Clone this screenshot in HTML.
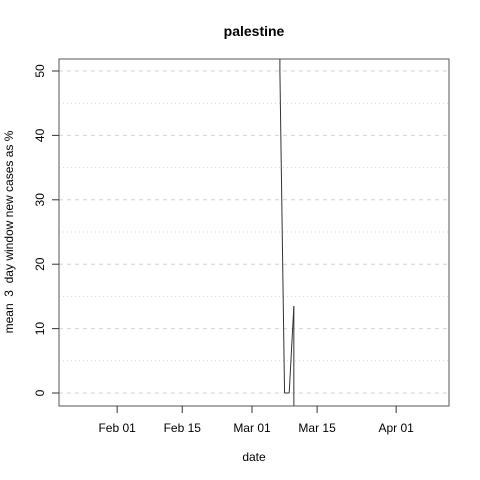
<!DOCTYPE html>
<html><head><meta charset="utf-8"><style>
html,body{margin:0;padding:0;width:480px;height:480px;overflow:hidden;background:#fff}
svg{display:block;font-family:"Liberation Sans",Arial,sans-serif}
</style></head><body>
<svg id="c" width="480" height="480">
<rect width="480" height="480" fill="#fff"/>
<defs><clipPath id="clip"><rect x="59" y="59" width="390" height="347"/></clipPath></defs>
<text x="254" y="36" text-anchor="middle" font-weight="bold" font-size="14">palestine</text>
<g id="grid"></g>
<g id="series" clip-path="url(#clip)"></g>
<rect x="59" y="59" width="390" height="347" fill="none" stroke="#555"/>
<g id="axes"></g>
<text x="254" y="461" text-anchor="middle" font-size="12">date</text>
<text transform="translate(13,232) rotate(-90)" text-anchor="middle" font-size="12" style="white-space:pre" xml:space="preserve">mean  3  day window new cases as %</text>
</svg>
<script>
const dates = [5, 6, 7, 8, 9, 10]; // days from Mar 01
const values = [5000, 50, 0, 0, 13.5, -5000];
const xTickDays = [-29, -15, 0, 14, 31];
const xTickLabels = ["Feb 01", "Feb 15", "Mar 01", "Mar 15", "Apr 01"];
const yTicks = [0, 10, 20, 30, 40, 50];
const yMinor = [5, 15, 25, 35, 45];

const NS = "http://www.w3.org/2000/svg";
const xs = d => 252 + d * 4.65;
const ys = v => 393 - v * 6.44;
const TOP = 59, BOT = 406;
function mk(tag, attrs, parent, text) {
  const e = document.createElementNS(NS, tag);
  for (const k in attrs) e.setAttribute(k, attrs[k]);
  if (text !== undefined) e.textContent = text;
  parent.appendChild(e); return e;
}
const grid = document.getElementById("grid");
const axes = document.getElementById("axes");
const series = document.getElementById("series");
yTicks.forEach(v => {
  const l = mk("line", {x1: 59, x2: 449, y1: ys(v), y2: ys(v), stroke: "#d3d3d3", "stroke-dasharray": "4,4"}, grid);
  
  
  const t = mk("line", {x1: 52, x2: 59, y1: ys(v), y2: ys(v), stroke: "#333"}, axes);
  
  
  const tx = mk("text", {transform: `translate(44,${ys(v)}) rotate(-90)`, "text-anchor": "middle", "font-size": 12}, axes, String(v));
  
  
});
yMinor.forEach(v => {
  const l = mk("line", {x1: 59, x2: 449, y1: ys(v), y2: ys(v), stroke: "#d3d3d3", "stroke-dasharray": "1,3"}, grid);
  
  
});
xTickDays.forEach((d, i) => {
  const t = mk("line", {x1: xs(d), x2: xs(d), y1: 406, y2: 413, stroke: "#333"}, axes);
  
  
  const tx = mk("text", {x: xs(d), y: 432, "text-anchor": "middle", "font-size": 12}, axes, xTickLabels[i]);
  
  
});
// clip each segment to the plot's vertical range so nothing extends off-page
for (let i = 0; i < dates.length - 1; i++) {
  let x1 = xs(dates[i]), y1 = ys(values[i]), x2 = xs(dates[i + 1]), y2 = ys(values[i + 1]);
  const clip = (xa, ya, xb, yb) => {
    const yc = Math.min(BOT, Math.max(TOP, ya));
    if (yc === ya) return [xa, ya];
    return [xa + (xb - xa) * (yc - ya) / (yb - ya), yc];
  };
  if ((y1 < TOP && y2 < TOP) || (y1 > BOT && y2 > BOT)) continue;
  const a = clip(x1, y1, x2, y2), b = clip(x2, y2, x1, y1);
  const seg = mk("line", {x1: a[0], y1: a[1], x2: b[0], y2: b[1], stroke: "#333", "stroke-width": 1}, series);
  
  
}
</script>
</body></html>
